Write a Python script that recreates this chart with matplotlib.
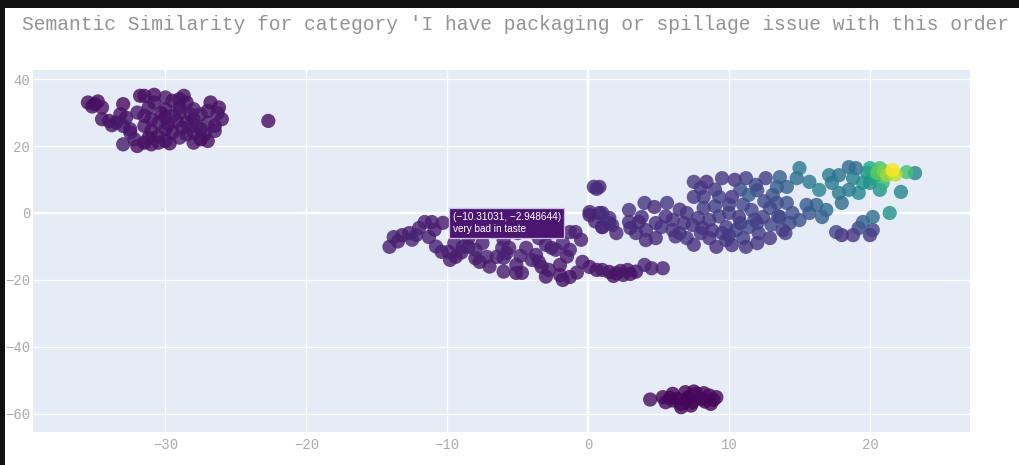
import matplotlib
matplotlib.use("Agg")
import matplotlib.pyplot as plt
from matplotlib.patches import Rectangle
import numpy as np

TITLE = "Semantic Similarity for category 'I have packaging or spillage issue with this order"
X_TICKS = [-30, -20, -10, 0, 10, 20]
Y_TICKS = [40, 20, 0, -20, -40, -60]

# t-SNE projection of review embeddings: (x, y, similarity to the category)
cluster_top_left = [
    (-35.5, 33, 0.03), (-35.0, 32.5, 0.02), (-34.8, 33.3, 0.03), (-34.5, 31.5, 0.05), (-33.0, 32.5, 0.02),
    (-34.5, 28, 0.04), (-34.0, 27.5, 0.05), (-33.5, 27, 0.04), (-33.0, 26, 0.06), (-32.5, 25, 0.05),
    (-33.0, 20.5, 0.07), (-32.0, 20, 0.03), (-31.5, 21, 0.02), (-31.0, 20.5, 0.04), (-30.5, 21, 0.03),
    (-30.0, 21.5, 0.05), (-31.8, 35, 0.03), (-31.5, 35, 0.04), (-30.0, 34.5, 0.06), (-29.5, 33.5, 0.04),
    (-29.0, 34, 0.05), (-28.5, 33, 0.03), (-32.0, 30, 0.06), (-31.5, 29, 0.05), (-31.0, 28, 0.04),
    (-30.5, 27, 0.05), (-30.0, 28.5, 0.03), (-29.5, 29, 0.06), (-29.0, 30, 0.04), (-30.0, 25, 0.05),
    (-29.5, 24, 0.03), (-30.5, 23, 0.04), (-29.0, 22.5, 0.06), (-28.5, 23.5, 0.05), (-28.0, 24, 0.04),
    (-28.5, 27, 0.05), (-28.0, 28, 0.03), (-27.5, 29.5, 0.07), (-27.0, 30.5, 0.05), (-26.8, 33, 0.02),
    (-27.0, 27, 0.06), (-26.5, 26, 0.05), (-26.5, 24.5, 0.06), (-27.5, 22, 0.02), (-27.0, 21.5, 0.03),
    (-28.0, 21, 0.04), (-32.5, 24, 0.07), (-31.0, 24.5, 0.04), (-31.5, 26, 0.05), (-30.0, 31, 0.04),
    (-29.0, 31.5, 0.05), (-28.0, 31, 0.06), (-27.5, 25, 0.05), (-26.0, 28, 0.04), (-22.7, 27.5, 0.03),
    (-35.2, 31.8, 0.04), (-33.8, 26.2, 0.06), (-32.8, 28.5, 0.05), (-31.2, 31.5, 0.04), (-30.8, 33.0, 0.05),
    (-30.3, 29.8, 0.03), (-29.8, 26.5, 0.04), (-29.2, 27.5, 0.05), (-28.8, 25.5, 0.03), (-28.2, 29.3, 0.04),
    (-27.8, 26.0, 0.06), (-27.2, 23.5, 0.05), (-29.7, 20.8, 0.03), (-31.2, 22.5, 0.04), (-32.2, 22.0, 0.06),
    (-30.8, 35.3, 0.02), (-28.7, 35.0, 0.05), (-26.3, 29.8, 0.06), (-26.2, 31.5, 0.04), (-33.2, 29.5, 0.05),
]

cluster_band_left = [
    (-14.1, -10.1, 0.08), (-13.8, -7.2, 0.09), (-13.2, -6.6, 0.07), (-12.7, -6.0, 0.08), (-12.2, -6.6, 0.1),
    (-11.6, -2.7, 0.09), (-11.1, -2.7, 0.08), (-10.31031, -2.948644, 0.07), (-11.3, -7.2, 0.08),
    (-10.4, -11.6, 0.07), (-9.9, -11.6, 0.08), (-9.4, -13.1, 0.06), (-8.9, -10.1, 0.09), (-8.5, -10.1, 0.07),
    (-8.0, -11.0, 0.1), (-7.7, -14.6, 0.06), (-7.2, -13.1, 0.09), (-6.5, -13.1, 0.08), (-6.1, -10.4, 0.1),
    (-5.6, -10.4, 0.08), (-5.1, -17.9, 0.06), (-4.7, -17.9, 0.07), (-4.4, -10.4, 0.09), (-3.7, -12.5, 0.08),
    (-3.3, -16.1, 0.06), (-2.8, -17.0, 0.07), (-2.3, -11.0, 0.09), (-1.8, -9.0, 0.1), (-1.3, -11.0, 0.08),
    (-0.4, -14.6, 0.07), (0.1, -16.1, 0.06), (0.6, -17.0, 0.05), (1.0, -17.0, 0.06), (1.5, -17.6, 0.05),
    (-1.8, -20.0, 0.05), (-1.3, -19.1, 0.06), (-2.6, -10.4, 0.08), (-2.8, -6.0, 0.09), (-2.3, -5.7, 0.07),
    (-1.3, -5.7, 0.1), (-0.9, -5.7, 0.08), (0.1, -0.6, 0.08), (0.8, 0.0, 0.09), (1.0, -4.2, 0.11),
    (1.5, -3.0, 0.1), (-7.0, -5.0, 0.08), (-5.0, -6.0, 0.07), (-4.0, -4.0, 0.09), (-6.0, -8.0, 0.08),
    (-8.5, -7.5, 0.07), (-3.5, -7.5, 0.09), (-9.5, -9.0, 0.08), (-8.0, -13.5, 0.07), (-6.0, -13.4, 0.09),
    (-5.1, -15.5, 0.07), (-3.5, -14.6, 0.08), (-2.0, -15.5, 0.06), (-12.5, -8.0, 0.1), (-10.8, -10.0, 0.09),
    (-9.8, -14.0, 0.07), (-7.0, -16.0, 0.06), (-6.0, -17.5, 0.07), (-4.0, -14.0, 0.08), (-3.0, -19.0, 0.05),
    (-2.0, -18.5, 0.06), (2.0, -18.0, 0.05), (2.5, -18.5, 0.06), (3.0, -18.2, 0.05), (2.3, -17.3, 0.06),
    (3.4, -17.5, 0.05), (4.5, -16.5, 0.08), (5.3, -16.5, 0.09), (4.0, -15.5, 0.1),
    (-13.5, -8.5, 0.06), (-12.0, -4.5, 0.08), (-10.9, -5.0, 0.07), (-9.0, -11.8, 0.06), (-7.5, -9.0, 0.08),
    (-5.8, -12.0, 0.07), (-4.8, -12.8, 0.09), (-3.0, -9.5, 0.08), (-1.5, -13.0, 0.07), (-0.8, -17.8, 0.06),
    (1.8, -18.8, 0.05), (2.8, -17.0, 0.06), (0.5, -2.5, 0.09), (-0.5, -8.0, 0.08),
]

cluster_band_mid = [
    (0.4, 7.8, 0.12), (0.8, 7.8, 0.1), (0.6, 7.2, 0.11), (0.1, 0.3, 0.1), (1.0, 0.0, 0.12),
    (1.7, -3.6, 0.12), (1.0, -4.2, 0.1), (2.9, 0.9, 0.13), (4.0, 3.0, 0.15), (4.7, 1.8, 0.12),
    (5.6, 3.0, 0.16), (2.9, -2.7, 0.12), (3.6, -2.7, 0.1), (3.4, -6.0, 0.12), (4.1, -5.1, 0.13),
    (4.8, -3.0, 0.14), (4.8, -7.5, 0.12), (4.1, -8.1, 0.11), (6.0, -5.1, 0.14), (6.5, -6.0, 0.13),
    (7.0, -7.5, 0.15), (7.5, 9.3, 0.16), (8.4, 9.3, 0.12), (7.5, 4.8, 0.15), (8.2, 4.8, 0.17),
    (8.2, 1.5, 0.16), (7.4, -3.6, 0.14), (8.1, -4.5, 0.12), (8.6, -2.1, 0.15), (8.6, -7.5, 0.14),
    (9.1, -10.1, 0.13), (9.5, 10.4, 0.16), (10.4, 9.9, 0.13), (11.2, 10.4, 0.18), (11.9, 8.4, 0.2),
    (12.6, 10.4, 0.17), (9.3, 4.8, 0.18), (10.2, 4.8, 0.14), (11.4, 5.4, 0.28), (10.0, 0.0, 0.17),
    (10.7, -1.2, 0.15), (11.6, 0.9, 0.2), (12.4, -1.2, 0.18), (9.8, -4.2, 0.16), (10.5, -5.1, 0.18),
    (11.4, -4.2, 0.2), (12.1, -6.0, 0.17), (12.9, -7.5, 0.16), (10.2, -9.6, 0.14), (11.2, -10.1, 0.15),
    (9.8, -8.1, 0.16), (13.1, 5.4, 0.24), (12.9, 1.5, 0.22), (6.0, -2.0, 0.14), (7.0, 0.0, 0.15),
    (9.0, 2.0, 0.18), (11.0, 2.5, 0.2), (10.8, 7.0, 0.22), (9.0, 7.0, 0.16), (12.0, -3.0, 0.19),
    (13.0, -3.5, 0.2), (14.0, -6.0, 0.17), (5.5, -1.0, 0.13), (6.8, -3.0, 0.14), (9.5, -6.0, 0.16),
    (7.5, -9.5, 0.13), (8.0, -6.0, 0.15), (11.0, -7.5, 0.17), (12.0, -9.0, 0.15), (13.5, -1.0, 0.22),
    (14.5, 0.0, 0.24), (3.0, -4.5, 0.12), (2.0, -6.0, 0.11), (1.5, -1.5, 0.12),
    (5.2, -4.2, 0.13), (6.2, -7.0, 0.14), (7.8, -1.5, 0.15), (9.3, -1.0, 0.17), (10.8, -3.0, 0.18),
    (11.8, -2.0, 0.19), (8.8, -5.2, 0.15), (10.0, -6.8, 0.16), (12.5, 3.5, 0.21), (10.0, 2.5, 0.18),
    (8.0, 7.5, 0.15), (12.0, 6.8, 0.22), (6.5, 1.0, 0.14), (3.8, -1.2, 0.12),
]

cluster_band_right = [
    (15.0, 13.4, 0.4), (14.8, 10.4, 0.35), (13.6, 10.7, 0.3), (13.4, 7.8, 0.28), (14.1, 7.8, 0.3),
    (15.7, 9.3, 0.4), (16.4, 6.9, 0.45), (17.1, 11.3, 0.4), (17.8, 11.3, 0.38), (17.3, 9.0, 0.4),
    (18.5, 13.7, 0.35), (19.0, 13.4, 0.35), (18.8, 10.4, 0.42), (18.5, 6.9, 0.4), (19.2, 6.0, 0.45),
    (20.0, 13.4, 0.6), (20.7, 13.4, 0.7), (21.2, 11.3, 0.85), (21.6, 12.8, 1.0), (20.2, 10.4, 0.55),
    (20.0, 9.0, 0.5), (20.9, 9.0, 0.65), (22.6, 12.2, 0.7), (23.2, 11.9, 0.45), (22.2, 6.3, 0.45),
    (21.4, 0.0, 0.5), (20.2, -1.2, 0.35), (19.5, -2.7, 0.3), (19.2, -4.5, 0.2), (20.2, -5.1, 0.2),
    (20.0, -6.6, 0.15), (18.8, -6.6, 0.15), (18.0, -6.6, 0.12), (17.6, -5.7, 0.2), (16.6, -1.2, 0.3),
    (16.9, 0.9, 0.35), (16.2, 2.4, 0.3), (15.5, 2.4, 0.28), (15.7, 0.0, 0.25), (15.0, -2.1, 0.25),
    (14.3, -3.0, 0.2), (13.8, -5.1, 0.18), (13.6, -1.2, 0.2), (14.1, 3.0, 0.25), (13.4, 3.0, 0.22),
    (18.0, 3.0, 0.35), (17.8, 6.0, 0.4), (19.5, 9.0, 0.5), (20.7, 6.9, 0.5), (20.5, 12.0, 0.75),
    (21.0, 12.5, 0.8), (21.8, 11.5, 0.9), (20.3, 11.5, 0.6), (19.8, 12.0, 0.5),
]

cluster_bottom = [
    (4.4, -55.7, 0.03), (5.3, -55.0, 0.01), (5.5, -56.5, 0.02), (6.0, -54.0, 0.01), (6.3, -55.5, 0.0),
    (6.6, -57.0, 0.02), (6.9, -53.5, 0.01), (7.1, -55.0, 0.0), (7.4, -56.5, 0.01), (7.7, -54.0, 0.02),
    (8.0, -55.5, 0.0), (8.3, -56.3, 0.01), (8.6, -54.5, 0.02), (8.9, -55.8, 0.01), (9.1, -55.0, 0.02),
    (6.0, -56.0, 0.01), (7.0, -56.0, 0.0), (5.8, -55.2, 0.02), (7.5, -53.3, 0.01), (8.2, -53.8, 0.02),
    (6.6, -58.0, 0.01), (7.3, -57.5, 0.0), (8.7, -57.0, 0.01),
]

HOVER_POINT = (-10.31031, -2.948644)
HOVER_TEXT = "very bad in taste"

points = np.array(cluster_top_left + cluster_band_left + cluster_band_mid
                  + cluster_band_right + cluster_bottom)
xs, ys, sim = points[:, 0], points[:, 1], points[:, 2]
order = np.argsort(sim)

fig = plt.figure(figsize=(10.2, 4.65), dpi=100)
fig.patch.set_facecolor("white")

W, H = 1020, 465
ax = fig.add_axes([33 / W, 1 - 432 / H, (970 - 33) / W, (432 - 70) / H])
ax.set_facecolor("#e5ecf6")

ax.scatter(xs[order], ys[order], c=sim[order], cmap="viridis", vmin=0, vmax=1,
           s=105, alpha=0.8, edgecolors="none", zorder=3)

ax.set_xlim(-39.4, 27.1)
ax.set_ylim(-65.4, 42.7)
ax.set_xticks(X_TICKS)
ax.set_yticks(Y_TICKS)
ax.set_xticklabels([str(t).replace("-", "\u2212") for t in X_TICKS])
ax.set_yticklabels([str(t).replace("-", "\u2212") for t in Y_TICKS])
ax.grid(True, color="white", linewidth=1.0, zorder=0)
ax.set_axisbelow(True)
ax.axvline(0, color="white", linewidth=1.6, zorder=1)
ax.axhline(0, color="white", linewidth=1.6, zorder=1)
for sp in ax.spines.values():
    sp.set_visible(False)
ax.tick_params(length=0, labelsize=10, colors="#ababab", pad=4)
ax.tick_params(axis="y", pad=2)
for lab in ax.get_xticklabels() + ax.get_yticklabels():
    lab.set_family("Liberation Mono")

ax.annotate(f"({HOVER_POINT[0]:.5f}, {HOVER_POINT[1]:.6f})\n{HOVER_TEXT}".replace("-", "\u2212"),
            xy=HOVER_POINT, xytext=(7, 0), textcoords="offset points",
            va="center", ha="left", color="white", fontsize=7.2,
            family="Liberation Sans", linespacing=1.3, zorder=6,
            bbox=dict(boxstyle="square,pad=0.35", fc="#4a1670", ec="#cbbde6", lw=0.9))

fig.text(22 / W, 1 - 25 / H, TITLE, family="Liberation Mono", fontsize=14.1,
         color="#939393", ha="left", va="center")

# dark frame along the top and left edges
fig.patches.append(Rectangle((0, 0), 5 / W, 1, transform=fig.transFigure,
                             facecolor="#111111", edgecolor="none", zorder=10))
fig.patches.append(Rectangle((0, 1 - 8 / H), 1, 8 / H, transform=fig.transFigure,
                             facecolor="#111111", edgecolor="none", zorder=10))

fig.savefig("out.png", dpi=100)
